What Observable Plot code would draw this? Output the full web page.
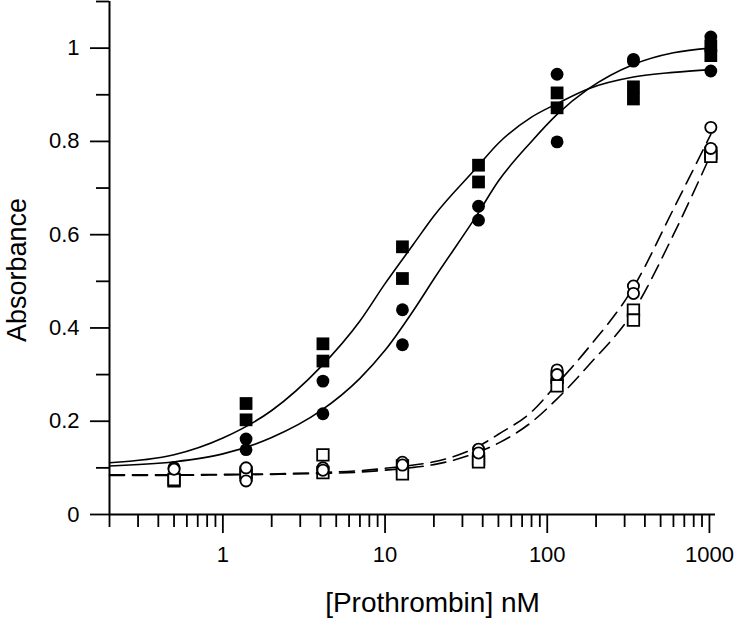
<!DOCTYPE html>
<html><head><meta charset="utf-8">
<script src="https://cdn.jsdelivr.net/npm/d3@7"></script>
<script src="https://cdn.jsdelivr.net/npm/@observablehq/plot@0.6"></script>
<style>html,body{margin:0;padding:0;background:#fff;}</style>
</head><body><div id="chart"></div>
<script>
// Prothrombin concentrations (nM)
const conc = [0.5, 1.39, 4.14, 12.8, 37.7, 115, 340, 1020];
// Absorbance, two replicates per series
const filledSquareRep1 = [null, 0.238, 0.366, 0.574, 0.749, 0.904, 0.917, 1.005];
const filledSquareRep2 = [null, 0.203, 0.329, 0.506, 0.713, 0.872, 0.891, 0.984];
const filledCircleRep1 = [null, 0.162, 0.286, 0.439, 0.661, 0.944, 0.976, 1.024];
const filledCircleRep2 = [null, 0.139, 0.216, 0.364, 0.631, 0.799, 0.972, 0.951];
const openCircleRep1 = [0.100, 0.100, 0.100, 0.112, 0.140, 0.310, 0.490, 0.830];
const openCircleRep2 = [0.097, 0.072, 0.095, 0.106, 0.132, 0.300, 0.474, 0.785];
const openSquareRep1 = [0.072, 0.090, 0.128, 0.104, 0.119, 0.294, 0.438, 0.775];
const openSquareRep2 = [0.075, 0.085, 0.090, 0.087, 0.113, 0.276, 0.417, 0.768];

// Fitted curves
const curveConc = [0.2, 0.5, 1, 2, 4, 7, 10, 15, 20, 37, 50, 80, 115, 180, 340, 600, 1020];
const fitFilledSquare = [0.111, 0.128, 0.164, 0.223, 0.316, 0.415, 0.495, 0.58, 0.64, 0.745, 0.796, 0.852, 0.881, 0.913, 0.938, 0.948, 0.954];
const fitFilledCircle = [0.104, 0.113, 0.130, 0.165, 0.222, 0.292, 0.352, 0.438, 0.505, 0.643, 0.715, 0.800, 0.858, 0.913, 0.965, 0.990, 1.000];
const fitOpenCircle  = [0.085, 0.085, 0.086, 0.087, 0.090, 0.094, 0.099, 0.106, 0.113, 0.145, 0.172, 0.220, 0.280, 0.358, 0.487, 0.655, 0.815];
const fitOpenSquare  = [0.084, 0.084, 0.085, 0.086, 0.088, 0.091, 0.095, 0.101, 0.107, 0.133, 0.153, 0.198, 0.248, 0.320, 0.436, 0.600, 0.772];

// Axis ticks
const xMajorTicks = [1, 10, 100, 1000];
const xMinorTicks = [0.2,0.3,0.4,0.5,0.6,0.7,0.8,0.9, 2,3,4,5,6,7,8,9, 20,30,40,50,60,70,80,90, 200,300,400,500,600,700,800,900];
const yMajorTicks = [0, 0.2, 0.4, 0.6, 0.8, 1];
const yMinorTicks = [0.1, 0.3, 0.5, 0.7, 0.9, 1.1];
const xTitle = "[Prothrombin] nM";
const yTitle = "Absorbance";

const pts = reps => conc.flatMap((c, i) => reps.map(r => ({x: c, y: r[i]}))).filter(d => d.y != null);
const crv = ys => curveConc.map((c, i) => ({x: c, y: ys[i]}));

const sw = 1.8;
const plot = Plot.plot({
  width: 735, height: 618,
  marginLeft: 109, marginRight: 20, marginTop: 1, marginBottom: 104,
  style: {fontFamily: "'Liberation Sans', Arial, sans-serif", background: "#fff", color: "#000"},
  x: {type: "log", domain: [0.2, 1090]},
  y: {domain: [0, 1.1]},
  marks: [
    Plot.axisX(xMajorTicks, {tickSize: 19, tickPadding: 13, fontSize: 22, strokeWidth: sw, tickFormat: d => String(d), label: null}),
    Plot.axisX(xMinorTicks, {tickSize: 13, tickFormat: () => "", strokeWidth: sw, label: null}),
    Plot.axisY(yMajorTicks, {tickSize: 19, tickPadding: 11, fontSize: 22, strokeWidth: sw, tickFormat: d => String(d), label: null}),
    Plot.axisY(yMinorTicks, {tickSize: 13, tickFormat: () => "", strokeWidth: sw, label: null}),
    Plot.ruleY([0], {strokeWidth: 2}),
    Plot.ruleX([0.2], {strokeWidth: 2}),
    Plot.line(crv(fitFilledSquare), {x: "x", y: "y", curve: "monotone-x", strokeWidth: 1.6}),
    Plot.line(crv(fitFilledCircle), {x: "x", y: "y", curve: "monotone-x", strokeWidth: 1.6}),
    Plot.line(crv(fitOpenCircle), {x: "x", y: "y", curve: "monotone-x", strokeWidth: 1.6, strokeDasharray: "15,8"}),
    Plot.line(crv(fitOpenSquare), {x: "x", y: "y", curve: "monotone-x", strokeWidth: 1.6, strokeDasharray: "15,8"}),
    Plot.dot(pts([openSquareRep1, openSquareRep2]), {x: "x", y: "y", symbol: "square", r: 6.5, fill: "#fff", stroke: "#000", strokeWidth: 1.8}),
    Plot.dot(pts([openCircleRep1, openCircleRep2]), {x: "x", y: "y", symbol: "circle", r: 5.6, fill: "#fff", stroke: "#000", strokeWidth: 1.8}),
    Plot.dot(pts([filledSquareRep1, filledSquareRep2]), {x: "x", y: "y", symbol: "square", r: 7.2, fill: "#000"}),
    Plot.dot(pts([filledCircleRep1, filledCircleRep2]), {x: "x", y: "y", symbol: "circle", r: 6.4, fill: "#000"}),
    Plot.text([xTitle], {text: d => d, frameAnchor: "bottom", textAnchor: "middle", lineAnchor: "bottom", dx: 20, dy: 97, fontSize: 28, fill: "#000"}),
    Plot.text([yTitle], {text: d => d, frameAnchor: "left", textAnchor: "middle", lineAnchor: "bottom", rotate: -90, dx: -84, dy: 12, fontSize: 27, fill: "#000"})
  ]
});
document.getElementById("chart").appendChild(plot);
</script>
</body></html>
